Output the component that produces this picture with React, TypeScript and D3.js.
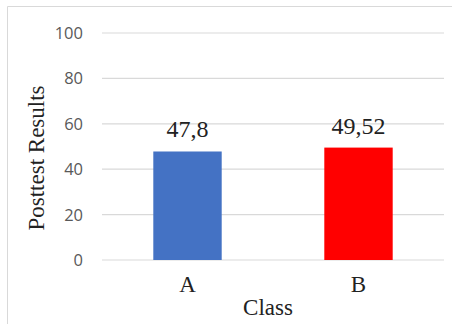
import React from "react";
import * as d3 from "d3";

const classes = ["A", "B"];
const results = [47.8, 49.52];
const valueLabels = ["47,8", "49,52"];
const barColors = ["#4472C4", "#FF0000"];
const yTicks = [0, 20, 40, 60, 80, 100];

const W = 452;
const H = 324;

export default function App() {
  const x = d3.scaleBand<string>()
    .domain(classes)
    .range([102, 444])
    .paddingInner(0.6)
    .paddingOuter(0.3);
  const y = d3.scaleLinear().domain([0, 100]).range([260, 33]);

  const serif = "'Liberation Serif', 'Times New Roman', serif";

  return (
    <svg width={W} height={H} style={{ position: "absolute", left: 0, top: 0 }}>
      <rect x={0} y={0} width={W} height={H} fill="#fff" />
      {/* chart border (cropped at right and bottom) */}
      <path d={`M7.5,${H + 2} V6.5 H${W + 2}`} fill="none" stroke="#d9d9d9" strokeWidth={1} />

      {yTicks.map(t => (
        <g key={t}>
          <line x1={102} x2={444} y1={y(t)} y2={y(t)} stroke="#d9d9d9" strokeWidth={1.2} />
          <text x={83} y={y(t)} dy="0.36em" textAnchor="end" fontFamily="'Open Sans', sans-serif"
            fontSize={16.5} fill="#595959">{t}</text>
        </g>
      ))}

      {classes.map((c, i) => (
        <g key={c}>
          <rect x={x(c)} y={y(results[i])} width={x.bandwidth()} height={y(0) - y(results[i])}
            fill={barColors[i]} />
          <text x={x(c)! + x.bandwidth() / 2} y={y(results[i]) - 14} textAnchor="middle"
            fontFamily={serif} fontSize={24} fill="#222">{valueLabels[i]}</text>
          <text x={x(c)! + x.bandwidth() / 2} y={292} textAnchor="middle"
            fontFamily={serif} fontSize={23} fill="#222">{c}</text>
        </g>
      ))}

      <text x={268} y={315} textAnchor="middle" fontFamily={serif} fontSize={23} fill="#222">Class</text>
      <text transform="translate(44,158) rotate(-90)" textAnchor="middle" fontFamily={serif}
        fontSize={23} fill="#222">Posttest Results</text>
    </svg>
  );
}
